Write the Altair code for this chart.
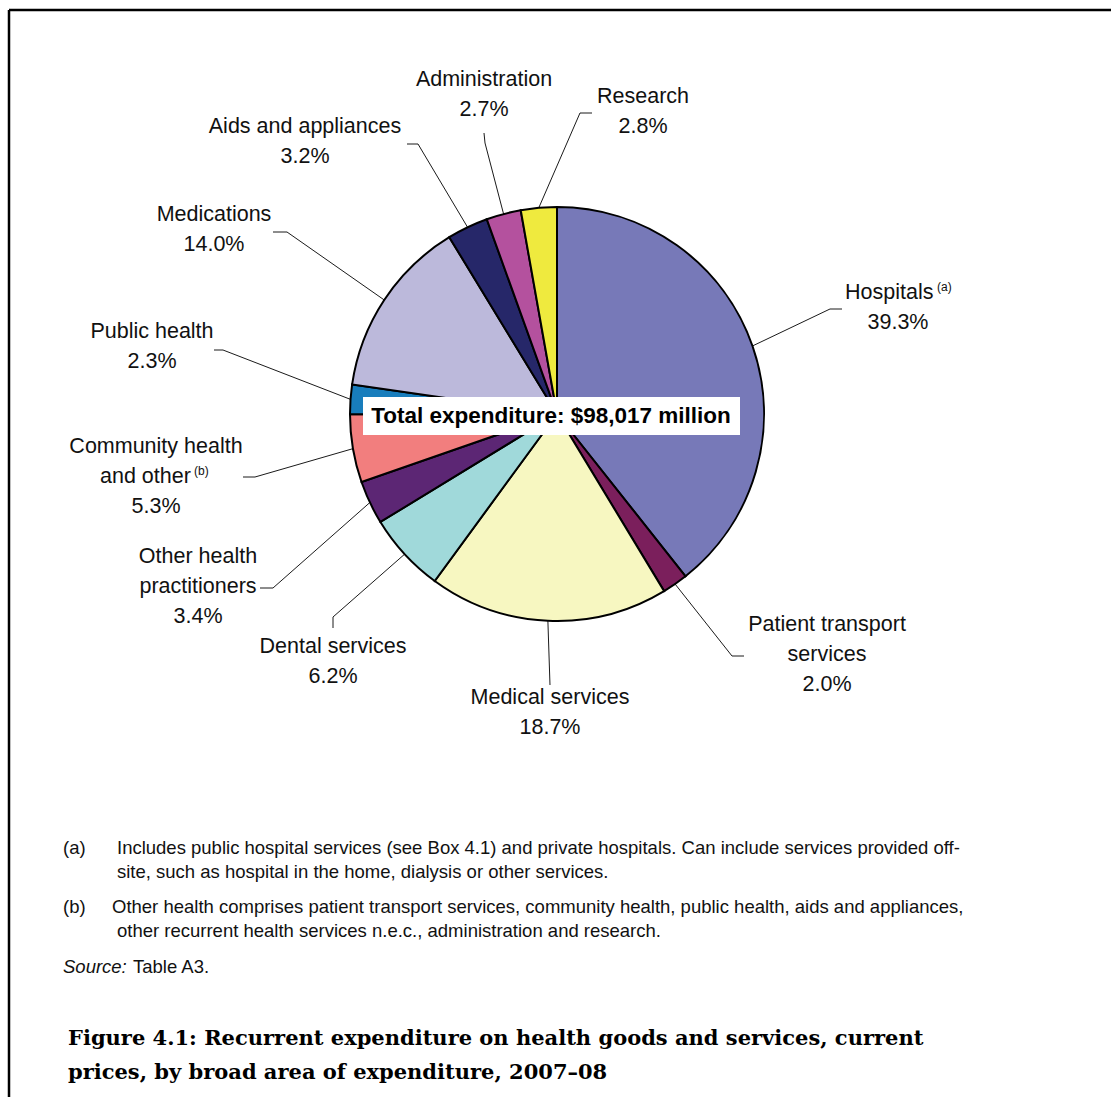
import math
import altair as alt
import pandas as pd

# ---------------- data ----------------
categories = ["Hospitals", "Patient transport services", "Medical services", "Dental services",
              "Other health practitioners", "Community health and other", "Public health",
              "Medications", "Aids and appliances", "Administration", "Research"]
shares = [39.3, 2.0, 18.7, 6.2, 3.4, 5.3, 2.3, 14.0, 3.2, 2.7, 2.8]
colors = ["#7779b8", "#7b1f5c", "#f7f7c1", "#a0d9da", "#5c2674", "#f27e7e",
          "#187dbc", "#bcb9db", "#262769", "#b4519e", "#efea3e"]
name_lines = [["Hospitals"], ["Patient transport", "services"], ["Medical services"],
              ["Dental services"], ["Other health", "practitioners"],
              ["Community health", "and other"], ["Public health"], ["Medications"],
              ["Aids and appliances"], ["Administration"], ["Research"]]
superscripts = {"Hospitals": "(a)", "Community health and other": "(b)"}
total_text = "Total expenditure: $98,017 million"
footnote_a = ["Includes public hospital services (see Box 4.1) and private hospitals. Can include services provided off-",
              "site, such as hospital in the home, dialysis or other services."]
footnote_b = ["Other health comprises patient transport services, community health, public health, aids and appliances,",
              "other recurrent health services n.e.c., administration and research."]
source_label = "Source:"
source_text = "Table A3."
caption = ["Figure 4.1: Recurrent expenditure on health goods and services, current",
           "prices, by broad area of expenditure, 2007\u201308"]

# ---------------- layout ----------------
W, H = 1111, 1097
CX, CY, R = 557, 414, 207
LINE = 30
LBL = 21.5
FN = 18.5
label_cx = [898, 827, 550, 333, 198, 156, 152, 214, 305, 484, 643]
label_y = [293, 625, 698, 647, 557, 447, 332, 215, 127, 80, 97]
elbow = [(830, 309), (732, 656), (550, 685), (333, 617), (273, 588), (255, 477),
         (223, 350), (287, 232), (418, 144), (485, 143), (580, 113)]
tail = [(842, 309), (744, 656), (550, 685), (333, 628), (260, 588), (243, 477),
        (214, 350), (273, 232), (407, 144), (484, 133), (592, 113)]
# left edge of the word that carries a superscript, and the superscript's left edge
sup_word_x = {"Hospitals": 845, "Community health and other": 100}
sup_x = {"Hospitals": 937, "Community health and other": 194}

total = sum(shares)
pie_df = pd.DataFrame({"category": categories, "share": shares, "idx": list(range(len(shares)))})

seg_rows = []
text_c = []   # centered texts
text_l = []   # left aligned texts
cum = 0.0
for i, (cat, v) in enumerate(zip(categories, shares)):
    mid = (cum + v / 2) / total * 2 * math.pi
    cum += v
    ex, ey = CX + R * math.sin(mid), CY - R * math.cos(mid)
    seg_rows.append({"x": ex, "y": ey, "x2": elbow[i][0], "y2": elbow[i][1]})
    seg_rows.append({"x": elbow[i][0], "y": elbow[i][1], "x2": tail[i][0], "y2": tail[i][1]})
    lines = name_lines[i]
    for j, ln in enumerate(lines):
        yy = label_y[i] + j * LINE
        if cat in superscripts and j == len(lines) - 1:
            text_l.append({"t": ln, "x": sup_word_x[cat], "y": yy, "s": LBL})
            text_l.append({"t": superscripts[cat], "x": sup_x[cat], "y": yy - 6, "s": 12})
        else:
            text_c.append({"t": ln, "x": label_cx[i], "y": yy, "s": LBL})
    text_c.append({"t": f"{v:.1f}%", "x": label_cx[i], "y": label_y[i] + len(lines) * LINE, "s": LBL})

# footnotes
text_l += [
    {"t": "(a)", "x": 63, "y": 848, "s": FN},
    {"t": footnote_a[0], "x": 117, "y": 848, "s": FN},
    {"t": footnote_a[1], "x": 117, "y": 872, "s": FN},
    {"t": "(b)", "x": 63, "y": 907, "s": FN},
    {"t": footnote_b[0], "x": 112, "y": 907, "s": FN},
    {"t": footnote_b[1], "x": 117, "y": 931, "s": FN},
    {"t": source_text, "x": 133, "y": 967, "s": FN},
]

seg_df = pd.DataFrame(seg_rows)
tc_df = pd.DataFrame(text_c)
tl_df = pd.DataFrame(text_l)
src_df = pd.DataFrame([{"t": source_label, "x": 63, "y": 967}])
cap_df = pd.DataFrame([{"t": caption[0], "x": 68, "y": 1039}, {"t": caption[1], "x": 68, "y": 1073}])
one = pd.DataFrame([{"t": total_text}])

xs = alt.Scale(domain=[0, W], range=[0, W])
ys = alt.Scale(domain=[0, H], range=[0, H])
FONT = "Liberation Sans"

border_top = alt.Chart(one).mark_rule(color="black", strokeWidth=2.5).encode(
    x=alt.value(9), x2=alt.value(W), y=alt.value(10))
border_left = alt.Chart(one).mark_rule(color="black", strokeWidth=2.5).encode(
    x=alt.value(9), y=alt.value(10), y2=alt.value(H))

leaders = alt.Chart(seg_df).mark_rule(color="black", strokeWidth=0.9).encode(
    x=alt.X("x:Q", scale=xs, axis=None), y=alt.Y("y:Q", scale=ys, axis=None),
    x2="x2:Q", y2="y2:Q")

pie = alt.Chart(pie_df).mark_arc(outerRadius=R, stroke="black", strokeWidth=2).encode(
    theta=alt.Theta("share:Q", stack=True),
    order=alt.Order("idx:Q"),
    color=alt.Color("category:N", scale=alt.Scale(domain=categories, range=colors), legend=None),
    x=alt.value(CX), y=alt.value(CY))

box = alt.Chart(one).mark_rect(color="white").encode(
    x=alt.value(363), x2=alt.value(740), y=alt.value(397), y2=alt.value(435))
box_text = alt.Chart(one).mark_text(font=FONT, fontSize=22.5, fontWeight="bold", color="black",
                                     align="center", baseline="middle").encode(
    text="t:N", x=alt.value(551), y=alt.value(416))

tc = alt.Chart(tc_df).mark_text(font=FONT, align="center", baseline="middle", color="#111").encode(
    x=alt.X("x:Q", scale=xs, axis=None), y=alt.Y("y:Q", scale=ys, axis=None), text="t:N",
    size=alt.Size("s:Q", scale=None, legend=None))
tl = alt.Chart(tl_df).mark_text(font=FONT, align="left", baseline="middle", color="#111").encode(
    x=alt.X("x:Q", scale=xs, axis=None), y=alt.Y("y:Q", scale=ys, axis=None), text="t:N",
    size=alt.Size("s:Q", scale=None, legend=None))
src = alt.Chart(src_df).mark_text(font=FONT, fontSize=FN, fontStyle="italic", align="left",
                                   baseline="middle", color="#111").encode(
    x=alt.X("x:Q", scale=xs, axis=None), y=alt.Y("y:Q", scale=ys, axis=None), text="t:N")
cap = alt.Chart(cap_df).mark_text(font="DejaVu Serif", fontSize=21, fontWeight="bold",
                                   align="left", baseline="middle", color="black").encode(
    x=alt.X("x:Q", scale=xs, axis=None), y=alt.Y("y:Q", scale=ys, axis=None), text="t:N")

chart = alt.layer(border_top, border_left, leaders, pie, box, box_text, tc, tl, src, cap).properties(
    width=W, height=H, padding=0, autosize=alt.AutoSizeParams(type="none"),
    background="white").configure_view(stroke=None)

chart.save("out.html", embed_options={"renderer": "svg", "actions": False})
